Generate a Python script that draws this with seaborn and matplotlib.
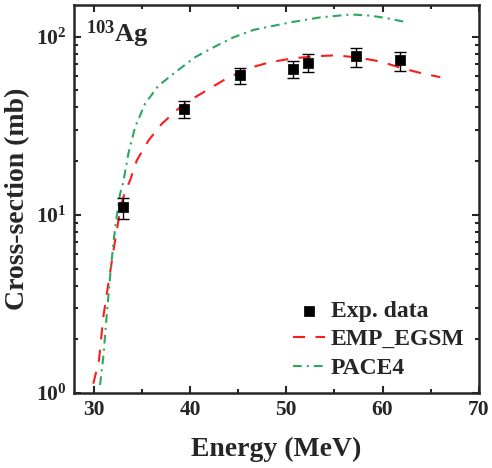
import numpy as np
import matplotlib
matplotlib.use("Agg")
import matplotlib.pyplot as plt
import seaborn as sns
import pandas as pd

# experimental points
exp_energy = [33.0, 39.4, 45.2, 50.7, 52.3, 57.2, 61.8]
exp_xs = [11.0, 39.0, 60.7, 65.9, 71.2, 77.3, 73.4]
exp_err_hi = [12.4, 43.6, 67.0, 72.7, 80.0, 86.4, 81.7]
exp_err_lo = [9.45, 34.7, 54.0, 58.9, 63.0, 67.3, 64.2]

# EMPIRE (EGSM) calculation
emp_energy = [29.93, 30.52, 30.97, 31.39, 31.74, 32.11, 32.43, 32.81, 33.2, 33.75, 34.45,
              35.66, 37.05, 38.78, 40.52, 42.26, 43.65, 45.9, 48.3, 50.76, 53.2, 55.2,
              57.6, 59.8, 62.2, 64.3, 66.0]
emp_xs = [1.13, 1.53, 2.68, 3.78, 5.0, 6.75, 8.55, 11.3, 13.3, 15.6, 20.2,
          26.1, 32.4, 39.4, 45.7, 52.0, 57.6, 66.0, 71.8, 75.6, 77.6, 78.5,
          76.0, 72.4, 66.0, 61.8, 59.2]

# PACE4 calculation
pace_energy = [30.63, 30.97, 31.22, 31.43, 31.67, 32.01, 32.3, 32.71, 33.05, 33.57, 34.27,
               35.31, 36.7, 38.44, 40.52, 42.6, 44.5, 46.6, 48.7, 50.76, 53.5, 56.7,
               58.75, 60.5, 62.6]
pace_xs = [1.11, 1.6, 2.35, 3.18, 4.48, 6.9, 9.3, 13.1, 15.3, 22.0, 31.0,
           42.0, 53.0, 63.0, 76.6, 88.0, 99.0, 109.0, 115.0, 121.0, 128.0, 133.0,
           131.0, 126.6, 120.0]

sns.set_style("ticks")
plt.rcParams['font.family'] = ['Liberation Serif', 'DejaVu Serif']
plt.rcParams['font.weight'] = 'bold'
plt.rcParams['axes.labelweight'] = 'bold'
plt.rcParams['mathtext.fontset'] = 'custom'
plt.rcParams['mathtext.rm'] = 'Liberation Serif:bold'
plt.rcParams['mathtext.bf'] = 'Liberation Serif:bold'
plt.rcParams['mathtext.it'] = 'Liberation Serif:bold'
plt.rcParams['mathtext.default'] = 'regular'

fig, ax = plt.subplots(figsize=(4.92, 4.68), dpi=100)
fig.subplots_adjust(left=0.15, right=0.973, top=0.989, bottom=0.16)

emp = pd.DataFrame({'E': emp_energy, 'xs': emp_xs})
pace = pd.DataFrame({'E': pace_energy, 'xs': pace_xs})

sns.lineplot(data=emp, x='E', y='xs', ax=ax, color='#ff1a1a', lw=1.5,
             label='EMP_EGSM', zorder=2)
ax.lines[-1].set_dashes([5.8, 5.0])
sns.lineplot(data=pace, x='E', y='xs', ax=ax, color='#2aa860', lw=1.5,
             label='PACE4', zorder=2)
ax.lines[-1].set_dashes([4.2, 2.4, 1.0, 2.4])

yerr = [np.array(exp_xs) - np.array(exp_err_lo), np.array(exp_err_hi) - np.array(exp_xs)]
ax.errorbar(exp_energy, exp_xs, yerr=yerr, fmt='none', ecolor='black',
            elinewidth=1.0, capsize=4, capthick=1.0, zorder=3)
sns.scatterplot(x=exp_energy, y=exp_xs, ax=ax, marker='s', color='black',
                s=45, edgecolor='black', label='Exp. data', zorder=4)

ax.set_yscale('log')
ax.set_xlim(27.9, 70)
ax.set_ylim(1, 150)
ax.set_xticks([30, 40, 50, 60, 70])
ax.xaxis.set_minor_locator(matplotlib.ticker.MultipleLocator(5))

for s in ax.spines.values():
    s.set_linewidth(1.8)
ax.tick_params(which='both', direction='in', top=True, right=True, width=1.5)
ax.tick_params(which='major', length=5, labelsize=15.5, pad=5)
ax.tick_params(which='minor', length=3)

ax.set_xlabel('Energy (MeV)', fontsize=20, labelpad=12)
ax.set_ylabel('Cross-section (mb)', fontsize=20, labelpad=4)

ax.text(0.03, 0.965, r'$^{103}$Ag', transform=ax.transAxes, fontsize=19,
        fontweight='bold', va='top', ha='left')

handles, labels = ax.get_legend_handles_labels()
order = [labels.index('Exp. data'), labels.index('EMP_EGSM'), labels.index('PACE4')]
ax.legend([handles[i] for i in order], [labels[i] for i in order],
          loc='lower right', frameon=False, handlelength=1.35,
          handletextpad=0.25, labelspacing=0.3, borderaxespad=0.2,
          prop={'weight': 'bold', 'size': 17})

fig.savefig('out.png', dpi=100)
